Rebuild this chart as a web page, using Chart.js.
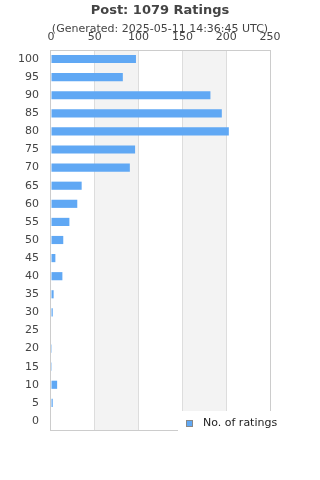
<!DOCTYPE html>
<html>
<head>
<meta charset="utf-8">
<script src="https://cdn.jsdelivr.net/npm/chart.js@4/dist/chart.umd.min.js"></script>
<style>
  html, body { margin: 0; padding: 0; background: #fff; }
  #wrap { width: 320px; height: 480px; }
</style>
</head>
<body>
<div id="wrap"><canvas id="chart"></canvas></div>
<script>
const categories = ["100", "95", "90", "85", "80", "75", "70", "65", "60", "55", "50",
	"45", "40", "35", "30", "25", "20", "15", "10", "5", "0"];
const ratingCounts = [97, 82, 182, 195, 203, 96, 90, 35, 30, 21, 14,
	5, 13, 3, 2, 0, 1, 1, 7, 2, 0];
const xTicks = [0, 50, 100, 150, 200, 250];
const shadedBands = [[50, 100], [150, 200]];

const barColor = "#60a8f4";
const textColor = "#444444";

Chart.defaults.font.family = "'DejaVu Sans', sans-serif";
Chart.defaults.color = textColor;

// light grey bands behind the grid, and the frame round the plot
const bandPlugin = {
	id: "bands",
	beforeDraw(chart) {
		const { ctx, chartArea, scales } = chart;
		ctx.save();
		ctx.fillStyle = "#f3f3f3";
		shadedBands.forEach(([a, b]) => {
			const x1 = scales.x.getPixelForValue(a);
			const x2 = scales.x.getPixelForValue(b);
			ctx.fillRect(x1, chartArea.top, x2 - x1, chartArea.bottom - chartArea.top);
		});
		ctx.restore();
	},
	afterDatasetsDraw(chart) {
		const { ctx, chartArea } = chart;
		const l = Math.round(chartArea.left) - 0.5;
		const t = Math.round(chartArea.top) + 0.5;
		const r = Math.round(chartArea.right) + 0.5;
		const b = Math.round(chartArea.bottom) + 0.5;
		ctx.save();
		ctx.strokeStyle = "#cccccc";
		ctx.lineWidth = 1;
		ctx.strokeRect(l, t, r - l, b - t);
		ctx.restore();
	},
};

// legend sits in a white box over the bottom right corner of the plot
const legendPlugin = {
	id: "cornerLegend",
	afterDraw(chart) {
		const { ctx, chartArea } = chart;
		const ds = chart.data.datasets[0];
		const x = 178;
		const y = chartArea.bottom - 19;
		ctx.save();
		ctx.fillStyle = "#ffffff";
		ctx.fillRect(x, y, chart.width - x, 26);
		ctx.fillStyle = ds.backgroundColor;
		ctx.fillRect(186.5, y + 9.5, 6, 6);
		ctx.strokeStyle = "#888888";
		ctx.lineWidth = 1;
		ctx.strokeRect(186.5, y + 9.5, 6, 6);
		ctx.fillStyle = "#222222";
		ctx.font = "11px 'DejaVu Sans', sans-serif";
		ctx.textBaseline = "middle";
		ctx.fillText(ds.label, 203, y + 12);
		ctx.restore();
	},
};

const config = {
	type: "bar",
	data: {
		labels: categories,
		datasets: [
			{
				label: "No. of ratings",
				data: ratingCounts,
				backgroundColor: barColor,
				borderWidth: 0,
				barPercentage: 0.45,
				categoryPercentage: 1,
			},
		],
	},
	options: {
		indexAxis: "y",
		responsive: true,
		maintainAspectRatio: false,
		animation: false,
		layout: {
			padding: { top: 0, right: 0, bottom: 50, left: 0 },
		},
		scales: {
			x: {
				position: "top",
				min: 0,
				max: 250,
				afterBuildTicks: (scale) => {
					scale.ticks = xTicks.map((v) => ({ value: v }));
				},
				afterFit: (scale) => {
					scale.height = 20;
				},
				grid: {
					color: (c) => (c.tick && (c.tick.value === 0 || c.tick.value === 250) ? "rgba(0,0,0,0)" : "#dddddd"),
					drawTicks: false,
				},
				border: { display: false },
				ticks: {
					padding: 6,
					color: textColor,
					font: { size: 11 },
				},
			},
			y: {
				afterFit: (scale) => {
					scale.width = 51;
				},
				grid: { display: false, drawTicks: false },
				border: { display: false },
				ticks: {
					autoSkip: false,
					padding: 12,
					color: textColor,
					font: { size: 11 },
				},
			},
			// empty axis on the right, only to keep the plot off the right edge
			yRight: {
				type: "category",
				position: "right",
				afterFit: (scale) => {
					scale.width = 50;
				},
				grid: { display: false, drawTicks: false },
				border: { display: false },
				ticks: { display: false },
			},
		},
		plugins: {
			legend: { display: false },
			tooltip: { enabled: false },
			title: {
				display: true,
				text: "Post: 1079 Ratings",
				color: textColor,
				font: { size: 13, weight: "bold" },
				padding: { top: 3, bottom: 3.8 },
			},
			subtitle: {
				display: true,
				text: "(Generated: 2025-05-11 14:36:45 UTC)",
				color: textColor,
				font: { size: 11 },
				padding: { top: 0, bottom: -5.6 },
			},
		},
	},
	plugins: [bandPlugin, legendPlugin],
};

const bar_chart = new Chart(document.getElementById("chart"), config);
</script>
</body>
</html>
